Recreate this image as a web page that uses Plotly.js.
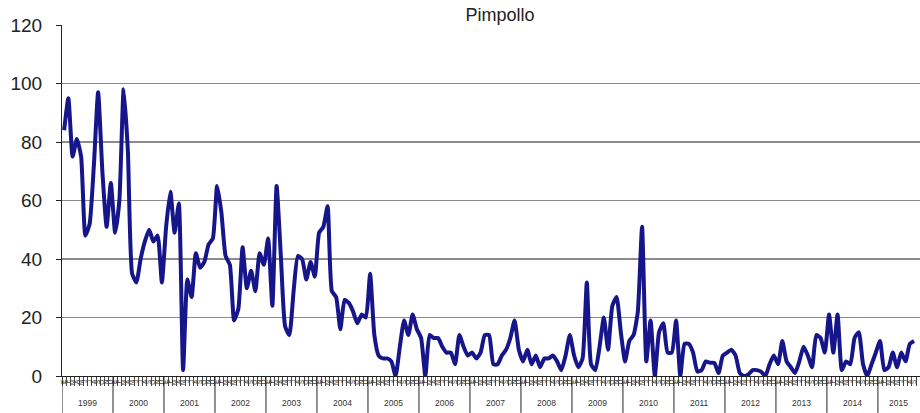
<!DOCTYPE html>
<html>
<head>
<meta charset="utf-8">
<script src="https://cdn.plot.ly/plotly-3.0.1.min.js"></script>
<style>
  html, body { margin: 0; padding: 0; background: #fff; }
  #chart { width: 920px; height: 413px; }
</style>
</head>
<body>
<div id="chart"></div>
<script>
// ---- data (monthly values, Jan 1999 .. Sep 2015) ----
var years = ["1999","2000","2001","2002","2003","2004","2005","2006","2007","2008","2009","2010","2011","2012","2013","2014","2015"];
var monthLetters = ["E","F","M","A","M","J","J","A","S","O","N","D"];

var v1999 = [84, 95, 75, 81, 75, 48, 52, 72, 97, 70, 51, 66];
var v2000 = [49, 60, 98, 77, 35, 32, 40, 46, 50, 46, 48, 32];
var v2001 = [51, 63, 49, 59, 2, 33, 27, 42, 37, 39, 45, 47];
var v2002 = [65, 56, 41, 38, 19, 23, 44, 30, 36, 29, 42, 38];
var v2003 = [47, 24, 65, 41, 17, 14, 29, 41, 40, 33, 39, 34];
var v2004 = [49, 51, 58, 29, 27, 16, 26, 25, 22, 18, 21, 20];
var v2005 = [35, 14, 7, 6, 6, 5, 0, 10, 19, 14, 21, 16];
var v2006 = [13, 0, 14, 13, 13, 10, 8, 8, 4, 14, 10, 7];
var v2007 = [8, 6, 8, 14, 14, 4, 4, 7, 9, 13, 19, 9];
var v2008 = [5, 9, 4, 7, 3, 6, 6, 7, 5, 2, 7, 14];
var v2009 = [7, 3, 6, 32, 4, 2, 10, 20, 9, 24, 27, 15];
var v2010 = [5, 12, 14, 22, 51, 5, 19, 0, 15, 18, 8, 8];
var v2011 = [19, 0, 11, 11, 8, 1.5, 2, 5, 4.5, 4.5, 1, 7];
var v2012 = [8, 9, 7, 1, 0, 0.5, 2, 2, 1.5, 0, 4, 7];
var v2013 = [4, 12, 5, 3, 1, 5, 10, 7, 3, 14, 13, 8];
var v2014 = [21, 8, 21, 2, 5, 4, 13, 15, 4, 0, 4, 8];
var v2015 = [12, 2, 3, 8, 3, 8, 5, 11, 12];

var yTicks = [0, 20, 40, 60, 80, 100, 120];
var chartTitle = "Pimpollo";

// ---- build ----
var series = [].concat(v1999, v2000, v2001, v2002, v2003, v2004, v2005, v2006, v2007,
                       v2008, v2009, v2010, v2011, v2012, v2013, v2014, v2015);
var xIdx = series.map(function (_, i) { return i; });
var monthTickText = xIdx.map(function (i) { return monthLetters[i % 12]; });

var lineColor = "#16168a";
var fontFam = "Liberation Sans, Arial, sans-serif";

var trace = {
  x: xIdx,
  y: series,
  type: "scatter",
  mode: "lines",
  line: { color: lineColor, width: 4, shape: "spline", smoothing: 0.5 },
  hoverinfo: "skip"
};

var shapes = [];
var annotations = [];
// year separators below the axis
for (var k = 0; k <= years.length; k++) {
  var xb = k * 12 - 0.5;
  if (xb > 201.4) break;
  shapes.push({
    type: "line", xref: "x", yref: "paper",
    x0: xb, x1: xb, y0: 0, y1: -0.105,
    line: { color: "#222", width: 1 }
  });
}
years.forEach(function (yr, k) {
  var startIdx = k * 12;
  var endIdx = Math.min(k * 12 + 11, 200.9);
  annotations.push({
    x: (startIdx - 0.5 + endIdx + 0.5) / 2, xref: "x",
    y: -0.077, yref: "paper",
    text: yr, showarrow: false,
    font: { family: fontFam, size: 8.5, color: "#333" },
    xanchor: "center", yanchor: "middle"
  });
});
// darker grid lines (as in the reference)
[40, 80].forEach(function (v) {
  shapes.push({
    type: "line", xref: "paper", yref: "y",
    x0: 0, x1: 1, y0: v, y1: v, layer: "below",
    line: { color: "#1a1a1a", width: 1 }
  });
});

var layout = {
  width: 920, height: 413,
  margin: { l: 62, r: 0, t: 25, b: 37, pad: 0 },
  paper_bgcolor: "#ffffff",
  plot_bgcolor: "#ffffff",
  showlegend: false,
  font: { family: fontFam, color: "#222" },
  title: {
    text: chartTitle,
    x: 500 / 920, xref: "container", xanchor: "center",
    y: 1 - 15 / 413, yref: "container", yanchor: "middle",
    font: { family: fontFam, size: 18, color: "#222" }
  },
  xaxis: {
    range: [-0.5, 201.4],
    showgrid: false, zeroline: false,
    showline: true, linecolor: "#222", linewidth: 1,
    tickmode: "array",
    tickvals: xIdx,
    ticktext: monthTickText,
    ticks: "",
    tickangle: -90,
    tickfont: { family: fontFam, size: 6.5, color: "#444" },
    minor: { tick0: -0.5, dtick: 1, ticks: "outside", ticklen: 9, tickcolor: "#444", tickwidth: 1, showgrid: false },
    fixedrange: true
  },
  yaxis: {
    range: [0, 120],
    tickmode: "array",
    tickvals: yTicks,
    showgrid: true, gridcolor: "#8a8a8a", gridwidth: 1,
    zeroline: false,
    showline: true, linecolor: "#222", linewidth: 1,
    ticks: "outside", ticklen: 5, tickcolor: "#222",
    ticklabelstandoff: 10,
    tickfont: { family: fontFam, size: 19, color: "#222" },
    fixedrange: true
  },
  shapes: shapes,
  annotations: annotations
};

Plotly.newPlot("chart", [trace], layout, { staticPlot: true, displayModeBar: false });
</script>
</body>
</html>
